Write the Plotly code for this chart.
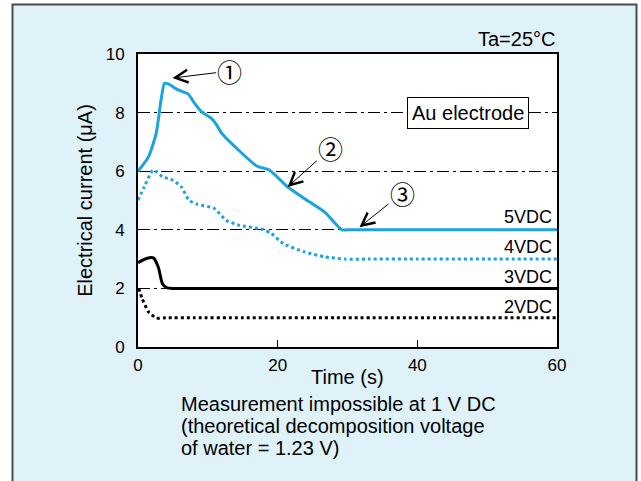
import plotly.graph_objects as go

# ---- data ----
t_5vdc = [0, 1.5, 2.6, 3.3, 3.8, 4.4, 5.6, 7.2, 8.0, 9.1, 10.5, 11.2, 12.0, 14.4, 17.0, 18.8, 21.4, 23.8, 26.7, 29.2, 30, 33, 40, 50, 60]
i_5vdc = [6.0, 6.49, 7.29, 8.43, 9.0, 8.97, 8.79, 8.63, 8.35, 8.03, 7.8, 7.6, 7.29, 6.72, 6.18, 6.04, 5.47, 5.07, 4.61, 4.0, 4.0, 4.0, 4.0, 4.0, 4.0]

t_4vdc = [0, 0.9, 2.2, 3.5, 5.0, 6.2, 7.3, 8.5, 10.9, 12.6, 14.4, 17.9, 19.1, 20.8, 23.8, 26.7, 29.7, 33, 40, 50, 60]
i_4vdc = [5.01, 5.47, 6.04, 5.81, 5.69, 5.47, 5.01, 4.87, 4.73, 4.33, 4.16, 4.01, 3.87, 3.53, 3.25, 3.08, 3.0, 3.0, 3.0, 3.0, 3.0]

t_3vdc = [0, 1.2, 2.2, 2.9, 3.5, 4.1, 5, 8, 15, 30, 45, 60]
i_3vdc = [2.88, 3.02, 3.04, 2.73, 2.16, 2.03, 2.0, 2.0, 2.0, 2.0, 2.0, 2.0]

t_2vdc = [0.1, 0.6, 1.5, 2.6, 4, 8, 15, 30, 45, 60]
i_2vdc = [2.0, 1.65, 1.2, 0.99, 1.0, 1.0, 1.0, 1.0, 1.0, 1.0]

series_names = ["5VDC", "4VDC", "3VDC", "2VDC"]
label_y = [4.42, 3.40, 2.38, 1.36]

x_ticks = [0, 20, 40, 60]
y_ticks = [0, 2, 4, 6, 8, 10]

BLUE = "#1ba3e1"
BG = "#dff2fa"
FONT = "Liberation Sans, Arial, Helvetica, sans-serif"

fig = go.Figure()
specs = [
    (t_5vdc, i_5vdc, BLUE, "solid"),
    (t_4vdc, i_4vdc, BLUE, "3px,3px"),
    (t_3vdc, i_3vdc, "black", "solid"),
    (t_2vdc, i_2vdc, "black", "3px,3px"),
]
for (tx, iy, col, dash), name in zip(specs, series_names):
    fig.add_trace(go.Scatter(x=tx, y=iy, mode="lines", name=name,
                             line=dict(color=col, width=3, dash=dash, shape="spline", smoothing=0.6),
                             showlegend=False, hoverinfo="skip"))

# page geometry helpers (plot area: x 138..557 px, y 54..347 px)
L, R, T, B = 138, 557, 54, 347
W, H = R - L, B - T
def px(x):
    return (x - L) / W
def py(y):
    return (B - y) / H

shapes = [
    dict(type="rect", xref="paper", yref="paper", x0=px(12.5), x1=px(636.5), y0=py(495), y1=py(4.5),
         fillcolor=BG, line=dict(color="#4a4a4a", width=2), layer="below"),
    dict(type="rect", xref="paper", yref="paper", x0=0, x1=1, y0=0, y1=1,
         fillcolor="white", line=dict(width=0), layer="below"),
]

annotations = []
for name, yv in zip(series_names, label_y):
    annotations.append(dict(x=59.5, y=yv, xref="x", yref="y", text=name, showarrow=False,
                            xanchor="right", yanchor="middle", font=dict(size=18, color="black", family=FONT)))

annotations.append(dict(x=47.3, y=8.0, xref="x", yref="y", text="Au electrode", showarrow=False,
                        bgcolor="white", bordercolor="black", borderwidth=1, borderpad=4,
                        font=dict(size=20, color="black", family=FONT)))

annotations.append(dict(x=px(558), y=py(39), xref="paper", yref="paper", text="Ta=25°C", showarrow=False,
                        xanchor="right", yanchor="middle", font=dict(size=20, color="black", family=FONT)))

annotations.append(dict(x=px(347), y=py(377), xref="paper", yref="paper", text="Time (s)", showarrow=False,
                        xanchor="center", yanchor="middle", font=dict(size=20, color="black", family=FONT)))

caption = ["Measurement impossible at 1 V DC", "(theoretical decomposition voltage", "of water = 1.23 V)"]
for k, line in enumerate(caption):
    annotations.append(dict(x=px(179), y=py(404 + 22 * k), xref="paper", yref="paper", text=line,
                            showarrow=False, xanchor="left", yanchor="middle",
                            font=dict(size=20, color="black", family=FONT)))

# circled markers with arrows
marks = [("①", 4.94, 9.18, 13.17, 9.42), ("②", 21.43, 5.46, 27.6, 6.79), ("③", 31.72, 4.09, 37.9, 5.27)]
for txt, hx, hy, tx, ty in marks:
    annotations.append(dict(x=hx, y=hy, ax=tx, ay=ty, xref="x", yref="y", axref="x", ayref="y",
                            text=txt, showarrow=True, arrowhead=5, arrowsize=2.5, arrowwidth=1,
                            arrowcolor="black",
                            font=dict(size=25, color="black", family="Noto Sans CJK JP")))

fig.update_layout(
    width=641, height=481,
    margin=dict(l=L, r=641 - R, t=T, b=481 - B),
    paper_bgcolor="white", plot_bgcolor="white",
    font=dict(family=FONT, color="black"),
    shapes=shapes, annotations=annotations,
    showlegend=False,
)
fig.update_xaxes(range=[0, 60], tickvals=x_ticks, ticks="inside", ticklen=7, tickwidth=1, tickcolor="black",
                 showline=True, mirror=True, linecolor="black", linewidth=2, showgrid=False, zeroline=False,
                 tickfont=dict(size=17), ticklabelstandoff=2)
fig.update_yaxes(range=[0, 10], tickvals=y_ticks, ticks="", showline=True, mirror=True, linecolor="black",
                 linewidth=2, showgrid=True, gridcolor="black", gridwidth=1, griddash="12px,4px,3px,4px",
                 zeroline=False, tickfont=dict(size=17), ticklabelstandoff=8,
                 title=dict(text="Electrical current (μA)", font=dict(size=20), standoff=8))

fig.write_html("out.html")
